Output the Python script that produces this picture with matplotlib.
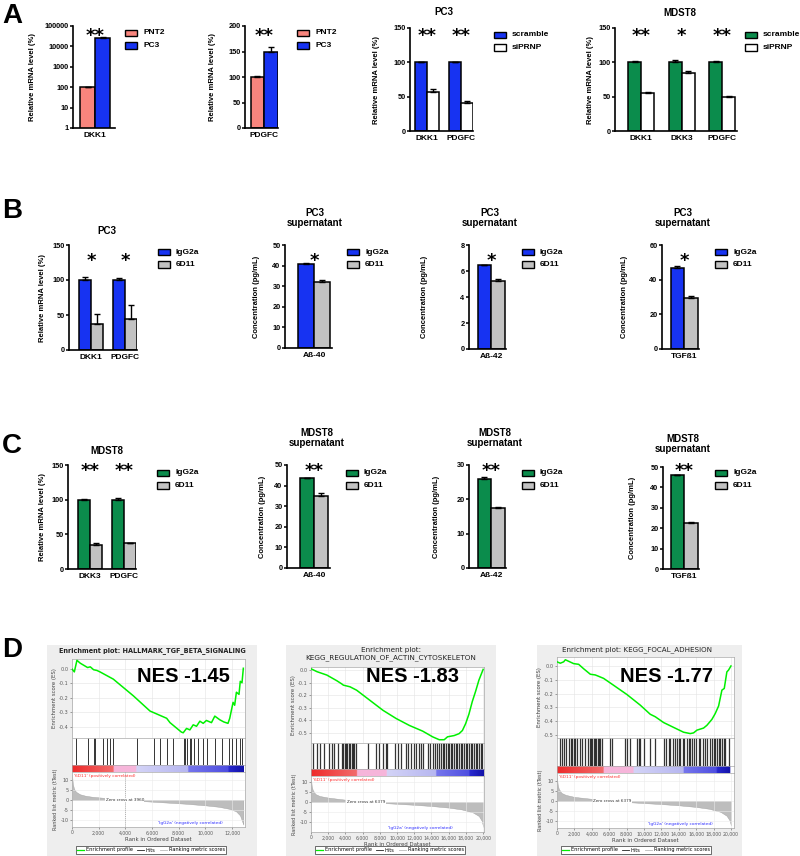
import numpy as np
import matplotlib
matplotlib.use('Agg')
import matplotlib.pyplot as plt
from matplotlib.patches import Rectangle
from matplotlib.lines import Line2D
from matplotlib.ticker import NullLocator, FuncFormatter
from matplotlib.colors import to_rgb

plt.rcParams['font.family'] = ['Liberation Sans', 'DejaVu Sans']
plt.rcParams['axes.unicode_minus'] = False

# ======================= DATA =======================
# ---- Row A ----
a1_cats = ['DKK1']
a1_pnt2 = [100];   a1_pnt2_err = [2]
a1_pc3 = [25000];  a1_pc3_err = [2500]
a1_stars = ['**']

a2_cats = ['PDGFC']
a2_pnt2 = [100];  a2_pnt2_err = [1]
a2_pc3 = [150];   a2_pc3_err = [8]
a2_stars = ['**']

a3_cats = ['DKK1', 'PDGFC']
a3_scr = [100, 100];  a3_scr_err = [0.5, 0.5]
a3_si = [57, 41];     a3_si_err = [4, 2]
a3_stars = ['**', '**']

a4_cats = ['DKK1', 'DKK3', 'PDGFC']
a4_scr = [100, 100, 100];  a4_scr_err = [2, 3, 2.5]
a4_si = [56, 85, 50];      a4_si_err = [1.5, 2.5, 1]
a4_stars = ['**', '*', '**']

# ---- Row B (PC3) ----
b1_cats = ['DKK1', 'PDGFC']
b1_igg = [100, 100]; b1_igg_err = [5, 3]
b1_6d = [37, 44];    b1_6d_err = [14, 20]
b1_stars = ['*', '*']

b2_cats = ['Aß-40']
b2_igg = [41.0]; b2_igg_err = [0.3]
b2_6d = [32.0];  b2_6d_err = [1.0]
b2_stars = ['*']

b3_cats = ['Aß-42']
b3_igg = [6.45]; b3_igg_err = [0.05]
b3_6d = [5.2];   b3_6d_err = [0.2]
b3_stars = ['*']

b4_cats = ['TGFß1']
b4_igg = [46.5]; b4_igg_err = [1.5]
b4_6d = [29.5];  b4_6d_err = [1.2]
b4_stars = ['*']

# ---- Row C (MDST8) ----
c1_cats = ['DKK3', 'PDGFC']
c1_igg = [100, 100]; c1_igg_err = [1, 3]
c1_6d = [35, 37];    c1_6d_err = [2, 0.5]
c1_stars = ['**', '**']

c2_cats = ['Aß-40']
c2_igg = [43.5]; c2_igg_err = [0.3]
c2_6d = [35.0];  c2_6d_err = [1.5]
c2_stars = ['**']

c3_cats = ['Aß-42']
c3_igg = [26.0]; c3_igg_err = [0.6]
c3_6d = [17.5];  c3_6d_err = [0.4]
c3_stars = ['**']

c4_cats = ['TGFß1']
c4_igg = [46.0]; c4_igg_err = [0.2]
c4_6d = [22.5];  c4_6d_err = [0.3]
c4_stars = ['**']

# ---- Row D (GSEA) ----
d1_title = 'Enrichment plot: HALLMARK_TGF_BETA_SIGNALING'
d1_nes = 'NES -1.45'
d1_N = 12850
d1_es_rank = [0, 175, 370, 620, 1170, 1370, 1620, 1870, 2100, 3100, 3360, 4600, 5850, 7100,
              7350, 8200, 8340, 8590, 8840, 9090, 9340, 9590, 9840, 10080, 10460, 10710,
              11080, 11380, 11700, 11830, 12080, 12200, 12330, 12525, 12620, 12750, 12850]
d1_es = [0.0, -0.02, 0.06, 0.04, 0.01, 0.015, -0.005, -0.01, -0.02, -0.07, -0.09, -0.185,
         -0.29, -0.34, -0.37, -0.435, -0.44, -0.41, -0.42, -0.385, -0.395, -0.36, -0.375,
         -0.355, -0.37, -0.325, -0.35, -0.365, -0.375, -0.34, -0.23, -0.25, -0.16, -0.175,
         -0.085, -0.095, 0.005]
d1_hits = [320, 1170, 1620, 1740, 2360, 2660, 2860, 3060, 4850, 6150, 6600, 7100, 7600,
           8390, 8490, 8590, 8840, 8960, 9130, 9460, 9790, 10090, 10710, 11280, 11780,
           12030, 12280, 12620, 12750]
d1_rank_x = [0, 60, 150, 300, 600, 1000, 1500, 2500, 3960, 5500, 7000, 8500, 10000, 11000,
             11800, 12300, 12600, 12850]
d1_metric = [12.5, 8, 5.5, 4, 2.8, 2.1, 1.6, 1.0, 0, -0.6, -1.2, -1.8, -2.6, -3.3, -4.3,
             -5.5, -7.5, -12]
d1_zero = 3960
d1_cb_edges = [0, 3100, 4800, 8700, 11700, 12850]

d2_title = 'Enrichment plot:\nKEGG_REGULATION_OF_ACTIN_CYTOSKELETON'
d2_nes = 'NES -1.83'
d2_N = 20000
d2_es_rank = [0, 690, 1840, 3000, 3570, 3760, 4530, 5300, 6835, 8370, 9900, 11440, 12980,
              14130, 14900, 15475, 15860, 16630, 17200, 17590, 17970, 18350, 18740, 19120,
              19510, 20000]
d2_es = [0.01, -0.013, -0.04, -0.085, -0.11, -0.12, -0.133, -0.16, -0.24, -0.32, -0.385,
         -0.44, -0.485, -0.53, -0.553, -0.553, -0.53, -0.52, -0.505, -0.48, -0.425, -0.35,
         -0.25, -0.17, -0.08, 0.005]
d2_hits = [230, 690, 1075, 1536, 2035, 2420, 2690, 3190, 3570, 3760, 3920, 4070, 4220, 4380,
           4530, 4720, 4915, 4990, 5220, 6640, 7600, 7910, 8370, 8680, 8830, 9715, 10100,
           10480, 10980, 11250, 11635, 12020, 12210, 12520, 12790, 13055, 13555, 13825,
           14130, 14440, 14590, 14820, 15090, 15280, 15475, 15670, 15860, 16050, 16240,
           16435, 16630, 16820, 17010, 17200, 17395, 17590, 17780, 17970, 18165, 18355,
           18550, 18740, 18930, 19120, 19315, 19510, 19740, 19890]
d2_rank_x = [0, 80, 200, 500, 1000, 2000, 3500, 5000, 6379, 8000, 10000, 12000, 14000,
             16000, 17500, 18800, 19500, 19850, 20000]
d2_metric = [12, 8, 6, 4, 3, 2.2, 1.4, 0.7, 0, -0.4, -0.9, -1.4, -2, -2.8, -3.7, -5.2, -7,
             -9.5, -12.5]
d2_zero = 6379
d2_cb_edges = [0, 5300, 8750, 14500, 18350, 20000]

d3_title = 'Enrichment plot: KEGG_FOCAL_ADHESION'
d3_nes = 'NES -1.77'
d3_N = 20000
d3_es_rank = [0, 383, 766, 960, 1340, 1915, 2490, 3060, 3830, 4400, 4790, 5360, 6510, 8040,
              9575, 10720, 11300, 12256, 13400, 14550, 15320, 15700, 16090, 16850, 17235,
              17810, 18190, 18580, 18960, 19230, 19530, 19720, 20000]
d3_es = [0.03, 0.02, 0.03, 0.045, 0.034, 0.017, 0.012, -0.02, -0.06, -0.065, -0.075, -0.09,
         -0.14, -0.207, -0.284, -0.35, -0.368, -0.41, -0.445, -0.48, -0.49, -0.485, -0.465,
         -0.45, -0.43, -0.387, -0.345, -0.29, -0.175, -0.163, -0.043, -0.03, 0.0]
d3_hits = [383, 613, 843, 1072, 1340, 1610, 1723, 1915, 2107, 2300, 2604, 2872, 3255, 3524,
           3753, 3907, 4060, 4213, 4366, 4520, 4673, 4826, 4980, 5210, 6128, 6320, 7850,
           8043, 8426, 9192, 9384, 9575, 9958, 10724, 11300, 12256, 12562, 12830, 13022,
           13330, 13597, 13788, 13980, 14170, 14480, 14630, 14937, 15130, 15320, 15510,
           15700, 16010, 16280, 16470, 16740, 17040, 17235, 17540, 17810, 18000, 18190,
           18385, 18575, 18767, 18960, 19150, 19340, 19725]
d3_rank_x = [0, 80, 200, 500, 1000, 2000, 3500, 5000, 6379, 8000, 10000, 12000, 14000,
             16000, 17500, 18800, 19500, 19850, 20000]
d3_metric = [11.5, 8, 6, 4, 3, 2, 1.3, 0.6, 0, -0.5, -1, -1.5, -2.1, -2.9, -3.8, -5.3, -7.2,
             -9.5, -12]
d3_zero = 6379
d3_cb_edges = [0, 5360, 8800, 14550, 18380, 19950]

# ======================= STYLE =======================
SALMON = '#F8857D'
BLUE = '#1733F2'
GREEN = '#0B8C4C'
GRAY = '#C2C2C2'
WHITE = '#FFFFFF'
CB_COLS = [('#EE2A2A', '#F26C6C'), ('#F6B5DA', '#F6B5DA'), ('#D4D4F7', '#B6B6F0'),
           ('#7676EC', '#4E4EE0'), ('#2A2AD0', '#1212A8')]

W, H = 800, 856
fig = plt.figure(figsize=(W / 100, H / 100), dpi=100)


def fx(px):
    return px / W


def fy(py):
    return 1 - py / H


def axpx(l, t, r, b, **kw):
    return fig.add_axes([l / W, 1 - b / H, (r - l) / W, (b - t) / H], **kw)


def bar_panel(box, C0, S, bw, cats, v1, e1, v2, e2, c1, c2, ylim, yticks, names, leg,
              ylabel, ylx, stars, star_y, title=None, title_xy=None, log=False):
    L, T, R, B = box
    ax = axpx(L, T, R, B)
    n = len(cats)
    cen = np.arange(n) * S / bw
    ax.bar(cen - 0.5, v1, width=1, color=c1, edgecolor='black', linewidth=1.1, zorder=2, log=log)
    ax.bar(cen + 0.5, v2, width=1, color=c2, edgecolor='black', linewidth=1.1, zorder=2, log=log)
    for xs, v, e in ((cen - 0.5, v1, e1), (cen + 0.5, v2, e2)):
        ax.errorbar(xs, v, yerr=[np.zeros(n), e], fmt='none', ecolor='black', elinewidth=1.0,
                    capsize=2.2, capthick=1.0, zorder=3)
    ax.set_xlim((L - C0) / bw, (R - C0) / bw)
    if log:
        ax.set_yscale('log')
    ax.set_ylim(*ylim)
    ax.set_yticks(yticks)
    ax.set_yticklabels([str(t) for t in yticks])
    ax.yaxis.set_minor_locator(NullLocator())
    ax.set_xticks(cen)
    ax.set_xticklabels(cats)
    for s in ['top', 'right']:
        ax.spines[s].set_visible(False)
    for s in ['left', 'bottom']:
        ax.spines[s].set_linewidth(1.2)
    ax.tick_params(axis='y', direction='out', length=2.2, width=1.1, labelsize=5.3, pad=1)
    ax.tick_params(axis='x', length=0, labelsize=6, pad=3)
    for t in ax.get_yticklabels() + ax.get_xticklabels():
        t.set_fontweight('bold')
    ax.patch.set_alpha(0)
    fig.text(fx(ylx), fy((T + B) / 2), ylabel, rotation=90, ha='center', va='center',
             fontsize=5.5, fontweight='bold')
    lx, ly = leg
    for k, (nm, col) in enumerate(zip(names, (c1, c2))):
        yy = ly + k * 12.7
        fig.patches.append(Rectangle((fx(lx), fy(yy + 3.3)), 12 / W, 6.6 / H,
                                     transform=fig.transFigure, facecolor=col,
                                     edgecolor='black', linewidth=1.0))
        fig.text(fx(lx + 18), fy(yy), nm, ha='left', va='center', fontsize=6,
                 fontweight='bold')
    for i, s in enumerate(stars):
        fig.text(fx(C0 + i * S), fy(star_y + 10), s, ha='center', va='baseline',
                 fontsize=13, fontweight='bold', family='DejaVu Sans')
    if title:
        fig.text(fx(title_xy[0]), fy(title_xy[1]), title, ha='center', va='center',
                 fontsize=7, fontweight='bold', linespacing=1.1)
    return ax


# ---------------- Row A ----------------
bar_panel((73, 26, 115, 128), 95, 0, 15, a1_cats, a1_pnt2, a1_pnt2_err, a1_pc3, a1_pc3_err,
          SALMON, BLUE, (1, 100000), [1, 10, 100, 1000, 10000, 100000], ['PNT2', 'PC3'],
          (125, 33), 'Relative mRNA level (%)', 32, a1_stars, 31, log=True)
bar_panel((245, 26, 278, 128), 264, 0, 13.5, a2_cats, a2_pnt2, a2_pnt2_err, a2_pc3, a2_pc3_err,
          SALMON, BLUE, (0, 200), [0, 50, 100, 150, 200], ['PNT2', 'PC3'],
          (297, 33), 'Relative mRNA level (%)', 213, a2_stars, 31)
bar_panel((410, 28, 473, 131), 427, 34, 12, a3_cats, a3_scr, a3_scr_err, a3_si, a3_si_err,
          BLUE, WHITE, (0, 150), [0, 50, 100, 150], ['scramble', 'siPRNP'],
          (494, 35), 'Relative mRNA level (%)', 377, a3_stars, 31, 'PC3', (444, 12))
bar_panel((615, 28, 737, 131), 641, 40.5, 13, a4_cats, a4_scr, a4_scr_err, a4_si, a4_si_err,
          GREEN, WHITE, (0, 150), [0, 50, 100, 150], ['scramble', 'siPRNP'],
          (745, 35), 'Relative mRNA level (%)', 590, a4_stars, 31, 'MDST8', (680, 13))

# ---------------- Row B ----------------
bar_panel((69, 245, 137, 350), 91, 34, 12, b1_cats, b1_igg, b1_igg_err, b1_6d, b1_6d_err,
          BLUE, GRAY, (0, 150), [0, 50, 100, 150], ['IgG2a', '6D11'],
          (158, 252), 'Relative mRNA level (%)', 42, b1_stars, 256, 'PC3', (107, 231))
bar_panel((285, 245, 332, 348), 314, 0, 16, b2_cats, b2_igg, b2_igg_err, b2_6d, b2_6d_err,
          BLUE, GRAY, (0, 50), [0, 10, 20, 30, 40, 50], ['IgG2a', '6D11'],
          (347, 252), 'Concentration (pg/mL)', 257, b2_stars, 256, 'PC3\nsupernatant', (315, 218))
bar_panel((469, 245, 506, 349), 491, 0, 13.5, b3_cats, b3_igg, b3_igg_err, b3_6d, b3_6d_err,
          BLUE, GRAY, (0, 8), [0, 2, 4, 6, 8], ['IgG2a', '6D11'],
          (522, 252), 'Concentration (pg/mL)', 425, b3_stars, 256, 'PC3\nsupernatant', (490, 218))
bar_panel((662, 245, 699, 349), 684, 0, 13.5, b4_cats, b4_igg, b4_igg_err, b4_6d, b4_6d_err,
          BLUE, GRAY, (0, 60), [0, 20, 40, 60], ['IgG2a', '6D11'],
          (715, 252), 'Concentration (pg/mL)', 625, b4_stars, 256, 'PC3\nsupernatant', (683, 218))

# ---------------- Row C ----------------
bar_panel((68, 465, 136, 569), 90, 34, 12, c1_cats, c1_igg, c1_igg_err, c1_6d, c1_6d_err,
          GREEN, GRAY, (0, 150), [0, 50, 100, 150], ['IgG2a', '6D11'],
          (157, 473), 'Relative mRNA level (%)', 42, c1_stars, 466, 'MDST8', (107, 451))
bar_panel((287, 465, 330, 568), 314, 0, 14, c2_cats, c2_igg, c2_igg_err, c2_6d, c2_6d_err,
          GREEN, GRAY, (0, 50), [0, 10, 20, 30, 40, 50], ['IgG2a', '6D11'],
          (346, 473), 'Concentration (pg/mL)', 263, c2_stars, 466, 'MDST8\nsupernatant', (317, 438))
bar_panel((469, 465, 506, 568), 491, 0, 13.5, c3_cats, c3_igg, c3_igg_err, c3_6d, c3_6d_err,
          GREEN, GRAY, (0, 30), [0, 10, 20, 30], ['IgG2a', '6D11'],
          (522, 473), 'Concentration (pg/mL)', 436, c3_stars, 466, 'MDST8\nsupernatant', (495, 438))
bar_panel((663, 467, 699, 569), 684, 0, 13.5, c4_cats, c4_igg, c4_igg_err, c4_6d, c4_6d_err,
          GREEN, GRAY, (0, 50), [0, 10, 20, 30, 40, 50], ['IgG2a', '6D11'],
          (715, 473), 'Concentration (pg/mL)', 632, c4_stars, 466, 'MDST8\nsupernatant', (683, 444))

# panel letters
for letter, cy in (('A', 13), ('B', 208), ('C', 443), ('D', 647)):
    fig.text(fx(2), fy(cy + 10), letter, ha='left', va='baseline', fontsize=20, fontweight='bold')


# ---------------- Row D (GSEA) ----------------
def cb_image(edges, N, npx=500):
    xs = np.linspace(0, N, npx)
    img = np.ones((1, npx, 3))
    for k in range(len(CB_COLS)):
        a, b = edges[k], edges[k + 1]
        m = (xs >= a) & (xs <= b)
        c0 = np.array(to_rgb(CB_COLS[k][0]))
        c1 = np.array(to_rgb(CB_COLS[k][1]))
        t = (xs[m] - a) / (b - a)
        img[0, m] = c0 + (c1 - c0) * t[:, None]
    return img


GF = 'DejaVu Sans'
TC = '#5A5A5A'


def style_small(ax):
    for s in ax.spines.values():
        s.set_color('#A8A8A8')
        s.set_linewidth(0.5)
    ax.tick_params(length=1.5, width=0.4, labelsize=3.6, colors=TC, pad=1)
    for t in ax.get_xticklabels() + ax.get_yticklabels():
        t.set_family(GF)


def gsea(frame, xl, xr, es_tb, hit_tb, cb_tb, rk_tb, N, xmax, xticks, es_r, es_v, es_ylim,
         es_ticks, hits, rk_x, rk_v, rk_ylim, cb_edges, zc, dashed, nes, nes_xy, title,
         title_xy, title_fs, title_w, legend_xy, neg_x, hit_lw):
    fl, ft, fr, fb = frame
    fig.patches.append(Rectangle((fx(fl), fy(fb)), (fr - fl) / W, (fb - ft) / H,
                                 transform=fig.transFigure, facecolor='#EEEEEE',
                                 edgecolor='none', zorder=-5))
    # ES
    es = axpx(xl, es_tb[0], xr, es_tb[1])
    es.plot(es_r, es_v, color='#00F000', lw=1.1, zorder=3)
    es.set_xlim(0, xmax)
    es.set_ylim(*es_ylim)
    es.set_yticks(es_ticks)
    es.yaxis.set_major_formatter(FuncFormatter(lambda v, p: f'{v:.1f}'))
    es.set_xticks(xticks)
    es.set_xticklabels([])
    es.tick_params(axis='x', length=0)
    es.grid(True, color='#E4E4E4', lw=0.4)
    style_small(es)
    es.set_ylabel('Enrichment score (ES)', fontsize=3.9, color='#444444', labelpad=1.5, family=GF)
    # hits
    ht = axpx(xl, hit_tb[0], xr, hit_tb[1])
    ht.vlines(hits, 0, 1, color='#111111', lw=hit_lw, alpha=0.85)
    ht.set_xlim(0, xmax)
    ht.set_ylim(0, 1)
    ht.set_xticks([])
    ht.set_yticks([])
    style_small(ht)
    # colour bar
    cb = axpx(xl, cb_tb[0], xr, cb_tb[1])
    cb.imshow(cb_image(cb_edges, N), extent=(0, N, 0, 1), aspect='auto', interpolation='bilinear')
    cb.set_xlim(0, xmax)
    cb.set_ylim(0, 1)
    cb.set_xticks([])
    cb.set_yticks([])
    style_small(cb)
    # ranked list
    rk = axpx(xl, rk_tb[0], xr, rk_tb[1])
    rk.fill_between(rk_x, rk_v, 0, color='#BDBDBD', lw=0.3, edgecolor='#A0A0A0')
    rk.set_xlim(0, xmax)
    rk.set_ylim(*rk_ylim)
    rk.set_yticks([10, 5, 0, -5, -10])
    rk.set_xticks(xticks)
    rk.xaxis.set_major_formatter(FuncFormatter(lambda v, p: f'{int(v):,}'))
    rk.grid(True, color='#EBEBEB', lw=0.4)
    style_small(rk)
    rk.tick_params(axis='x', labelsize=3.3)
    if dashed:
        rk.axvline(zc, color='#999999', lw=0.5, ls=(0, (1.5, 1.5)))
    rk.text(zc, 0, f'Zero cross at {zc}', ha='center', va='center', fontsize=3.0,
            color='#333333', family=GF,
            bbox=dict(facecolor='white', edgecolor='none', pad=0.3))
    rk.text(0.01, 0.97, "'6D11' (positively correlated)", transform=rk.transAxes, ha='left',
            va='top', fontsize=3.1, color='#FF3030', family=GF)
    rk.text(neg_x, 0.04, "'IgG2a' (negatively correlated)", transform=rk.transAxes, ha='right',
            va='bottom', fontsize=3.1, color='#3030FF', family=GF)
    rk.set_xlabel('Rank in Ordered Dataset', fontsize=3.9, color='#444444', labelpad=1, family=GF)
    rk.set_ylabel('Ranked list metric (tTest)', fontsize=3.5, color='#444444', labelpad=1.5,
                  family=GF)
    # texts
    fig.text(fx(title_xy[0]), fy(title_xy[1]), title, ha='center', va='center',
             fontsize=title_fs, fontweight=title_w, family=GF, color='#222222', linespacing=1.2)
    fig.text(fx(nes_xy[0]), fy(nes_xy[1] + 7.2), nes, ha='center', va='baseline',
             fontsize=14.5, fontweight='bold')
    handles = [Line2D([], [], color='#00F000', lw=0.9), Line2D([], [], color='#222222', lw=0.6),
               Line2D([], [], color='#BBBBBB', lw=0.6)]
    lg = fig.legend(handles, ['Enrichment profile', 'Hits', 'Ranking metric scores'],
                    loc='center', bbox_to_anchor=(fx(legend_xy[0]), fy(legend_xy[1])), ncol=3,
                    fontsize=3.6, frameon=True, fancybox=False, edgecolor='#333333',
                    framealpha=1, borderpad=0.3, handlelength=1.3, columnspacing=0.9,
                    handletextpad=0.4, prop={'family': GF, 'size': 3.6})
    lg.get_frame().set_linewidth(0.5)


gsea((47, 645, 257, 856), 72, 245, (659, 738), (738, 765), (765, 772), (772, 827),
     d1_N, 12975, [0, 2000, 4000, 6000, 8000, 10000, 12000], d1_es_rank, d1_es,
     (-0.476, 0.069), [0.0, -0.1, -0.2, -0.3, -0.4], d1_hits, d1_rank_x, d1_metric,
     (-13.2, 13.7), d1_cb_edges, d1_zero, True, d1_nes, (183, 675), d1_title, (152, 651),
     4.7, 'bold', (151, 850), 0.873, 0.7)
gsea((286, 645, 496, 856), 311, 484, (667, 743), (743, 769), (769, 776), (776, 832),
     d2_N, 20100, list(range(0, 20001, 2000)), d2_es_rank, d2_es,
     (-0.579, 0.024), [0.0, -0.1, -0.2, -0.3, -0.4, -0.5], d2_hits, d2_rank_x, d2_metric,
     (-15, 13), d2_cb_edges, d2_zero, False, d2_nes, (413, 675), d2_title, (391, 654),
     5.2, 'normal', (390, 850), 0.82, 0.9)
gsea((537, 645, 742, 856), 557, 734, (657, 738), (738, 766), (766, 773), (773, 828),
     d3_N, 20350, list(range(0, 20001, 2000)), d3_es_rank, d3_es,
     (-0.522, 0.065), [0.0, -0.1, -0.2, -0.3, -0.4, -0.5], d3_hits, d3_rank_x, d3_metric,
     (-13.2, 13.7), d3_cb_edges, d3_zero, False, d3_nes, (667, 675), d3_title, (637, 650),
     5.1, 'normal', (636, 850), 0.88, 0.9)

fig.savefig('out.png', dpi=100)
